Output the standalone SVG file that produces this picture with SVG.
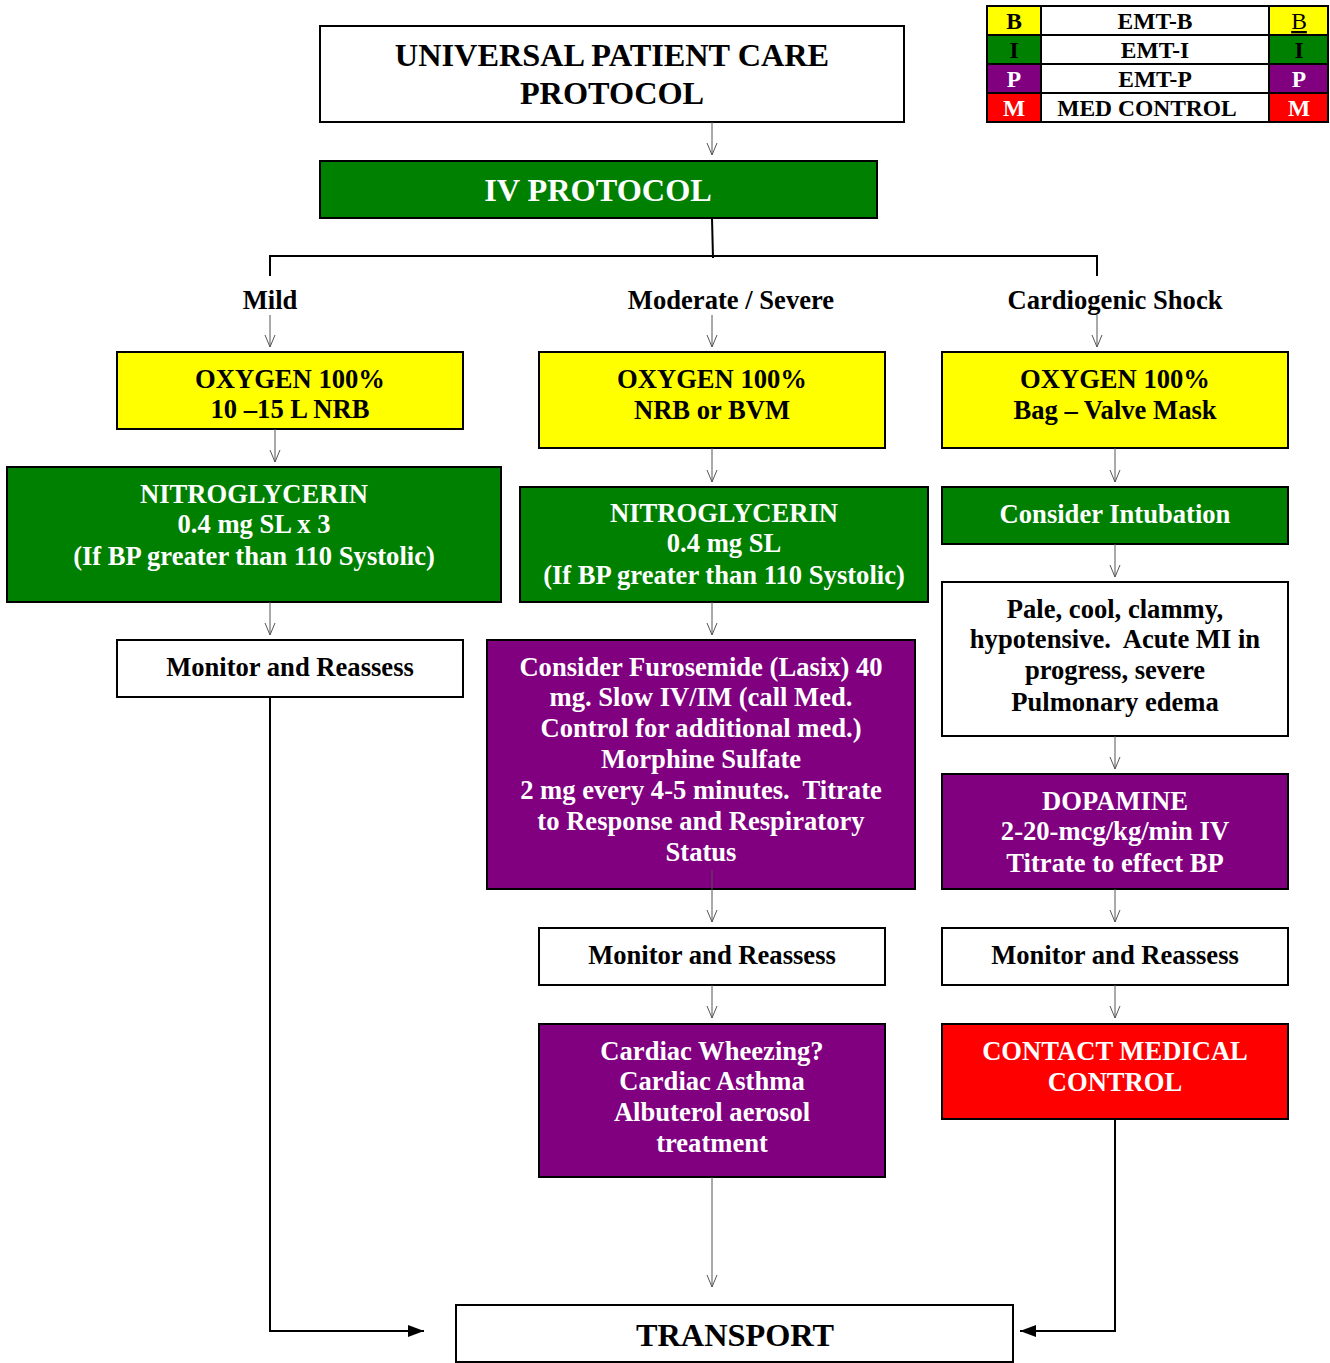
<svg xmlns="http://www.w3.org/2000/svg" width="1330" height="1363" viewBox="0 0 1330 1363">
  <style>
    text { font-family: "Liberation Serif", "Times New Roman", serif; font-weight: bold; text-anchor: middle; white-space: pre; }
    .box { stroke: #000; stroke-width: 2; }
    .white { fill: #fff; }
    .yellow { fill: #ffff00; }
    .green { fill: #008000; }
    .purple { fill: #800080; }
    .red { fill: #ff0000; }
    .t24 { font-size: 26.6px; fill: #000; }
    .t24w { font-size: 26.6px; fill: #fff; }
    .t30 { font-size: 32.3px; fill: #000; }
    .leg { font-size: 23.5px; fill: #000; }
    .legw { font-size: 23.5px; fill: #fff; }
    .thin { stroke: #555; stroke-width: 1; fill: none; }
    .thick { stroke: #000; stroke-width: 2; fill: none; }
  </style>
  <defs>
    <marker id="open" viewBox="-13 -6 14 12" markerWidth="14" markerHeight="12" refX="0" refY="0" orient="auto" markerUnits="userSpaceOnUse">
      <path d="M-12,-5 L0,0 L-12,5" fill="none" stroke="#555" stroke-width="1"/>
    </marker>
    <marker id="solid" viewBox="-16 -7 17 14" markerWidth="17" markerHeight="14" refX="0" refY="0" orient="auto" markerUnits="userSpaceOnUse">
      <path d="M-16,-6 L0,0 L-16,6 Z" fill="#000"/>
    </marker>
  </defs>

  <!-- legend -->
  <g id="legend">
    <rect class="box yellow" x="987" y="6" width="54" height="29"/>
    <rect class="box white" x="1041" y="6" width="228" height="29"/>
    <rect class="box yellow" x="1269" y="6" width="59" height="29"/>
    <rect class="box green" x="987" y="35" width="54" height="29"/>
    <rect class="box white" x="1041" y="35" width="228" height="29"/>
    <rect class="box green" x="1269" y="35" width="59" height="29"/>
    <rect class="box purple" x="987" y="64" width="54" height="29"/>
    <rect class="box white" x="1041" y="64" width="228" height="29"/>
    <rect class="box purple" x="1269" y="64" width="59" height="29"/>
    <rect class="box red" x="987" y="93" width="54" height="29"/>
    <rect class="box white" x="1041" y="93" width="228" height="29"/>
    <rect class="box red" x="1269" y="93" width="59" height="29"/>
    <text class="leg" x="1014" y="29">B</text>
    <text class="leg" x="1155" y="29">EMT-B</text>
    <text class="leg" x="1299" y="29" style="font-weight:normal;text-decoration:underline">B</text>
    <text class="leg" x="1014" y="58">I</text>
    <text class="leg" x="1155" y="58">EMT-I</text>
    <text class="leg" x="1299" y="58">I</text>
    <text class="legw" x="1014" y="87">P</text>
    <text class="leg" x="1155" y="87">EMT-P</text>
    <text class="legw" x="1299" y="87">P</text>
    <text class="legw" x="1014" y="116">M</text>
    <text class="leg" x="1147" y="116">MED CONTROL</text>
    <text class="legw" x="1299" y="116">M</text>
  </g>

  <!-- nodes -->
  <g id="title">
    <rect class="box white" x="320" y="26" width="584" height="96"/>
    <text class="t30" x="612" y="66">UNIVERSAL PATIENT CARE</text>
    <text class="t30" x="612" y="104">PROTOCOL</text>
  </g>
  <g id="iv-protocol">
    <rect class="box green" x="320" y="161" width="557" height="57"/>
    <text class="t30" x="598" y="201" style="fill:#fff">IV PROTOCOL</text>
  </g>

  <g id="label-mild"><text class="t24" x="270" y="309">Mild</text></g>
  <g id="label-moderate"><text class="t24" x="731" y="309">Moderate / Severe</text></g>
  <g id="label-shock"><text class="t24" x="1115" y="309">Cardiogenic Shock</text></g>

  <!-- mild column -->
  <g id="mild-oxygen">
    <rect class="box yellow" x="117" y="352" width="346" height="77"/>
    <text class="t24" x="290" y="388">OXYGEN 100%</text>
    <text class="t24" x="290" y="418">10 –15 L NRB</text>
  </g>
  <g id="mild-nitro">
    <rect class="box green" x="7" y="467" width="494" height="135"/>
    <text class="t24w" x="254" y="503">NITROGLYCERIN</text>
    <text class="t24w" x="254" y="533">0.4 mg SL x 3</text>
    <text class="t24w" x="254" y="565">(If BP greater than 110 Systolic)</text>
  </g>
  <g id="mild-monitor">
    <rect class="box white" x="117" y="640" width="346" height="57"/>
    <text class="t24" x="290" y="676">Monitor and Reassess</text>
  </g>

  <!-- moderate / severe column -->
  <g id="mod-oxygen">
    <rect class="box yellow" x="539" y="352" width="346" height="96"/>
    <text class="t24" x="712" y="388">OXYGEN 100%</text>
    <text class="t24" x="712" y="419">NRB or BVM</text>
  </g>
  <g id="mod-nitro">
    <rect class="box green" x="520" y="487" width="408" height="115"/>
    <text class="t24w" x="724" y="522">NITROGLYCERIN</text>
    <text class="t24w" x="724" y="552">0.4 mg SL</text>
    <text class="t24w" x="724" y="584">(If BP greater than 110 Systolic)</text>
  </g>
  <g id="mod-furosemide">
    <rect class="box purple" x="487" y="640" width="428" height="249"/>
    <text class="t24w" x="701" y="676">Consider Furosemide (Lasix) 40</text>
    <text class="t24w" x="701" y="706">mg. Slow IV/IM (call Med.</text>
    <text class="t24w" x="701" y="737">Control for additional med.)</text>
    <text class="t24w" x="701" y="768">Morphine Sulfate</text>
    <text class="t24w" x="701" y="799">2 mg every 4-5 minutes.  Titrate</text>
    <text class="t24w" x="701" y="830">to Response and Respiratory</text>
    <text class="t24w" x="701" y="861">Status</text>
  </g>
  <g id="mod-monitor">
    <rect class="box white" x="539" y="928" width="346" height="57"/>
    <text class="t24" x="712" y="964">Monitor and Reassess</text>
  </g>
  <g id="mod-wheezing">
    <rect class="box purple" x="539" y="1024" width="346" height="153"/>
    <text class="t24w" x="712" y="1060">Cardiac Wheezing?</text>
    <text class="t24w" x="712" y="1090">Cardiac Asthma</text>
    <text class="t24w" x="712" y="1121">Albuterol aerosol</text>
    <text class="t24w" x="712" y="1152">treatment</text>
  </g>

  <!-- cardiogenic shock column -->
  <g id="shock-oxygen">
    <rect class="box yellow" x="942" y="352" width="346" height="96"/>
    <text class="t24" x="1115" y="388">OXYGEN 100%</text>
    <text class="t24" x="1115" y="419">Bag – Valve Mask</text>
  </g>
  <g id="shock-intubation">
    <rect class="box green" x="942" y="487" width="346" height="57"/>
    <text class="t24w" x="1115" y="523">Consider Intubation</text>
  </g>
  <g id="shock-signs">
    <rect class="box white" x="942" y="582" width="346" height="154"/>
    <text class="t24" x="1115" y="618">Pale, cool, clammy,</text>
    <text class="t24" x="1115" y="648">hypotensive.  Acute MI in</text>
    <text class="t24" x="1115" y="679">progress, severe</text>
    <text class="t24" x="1115" y="711">Pulmonary edema</text>
  </g>
  <g id="shock-dopamine">
    <rect class="box purple" x="942" y="774" width="346" height="115"/>
    <text class="t24w" x="1115" y="810">DOPAMINE</text>
    <text class="t24w" x="1115" y="840">2-20-mcg/kg/min IV</text>
    <text class="t24w" x="1115" y="872">Titrate to effect BP</text>
  </g>
  <g id="shock-monitor">
    <rect class="box white" x="942" y="928" width="346" height="57"/>
    <text class="t24" x="1115" y="964">Monitor and Reassess</text>
  </g>
  <g id="shock-medcontrol">
    <rect class="box red" x="942" y="1024" width="346" height="95"/>
    <text class="t24w" x="1115" y="1060">CONTACT MEDICAL</text>
    <text class="t24w" x="1115" y="1091">CONTROL</text>
  </g>

  <g id="transport">
    <rect class="box white" x="456" y="1305" width="557" height="57"/>
    <text class="t30" x="735" y="1346">TRANSPORT</text>
  </g>

  <!-- connectors -->
  <g id="connectors">
    <line class="thin" x1="712" y1="122" x2="712" y2="155" marker-end="url(#open)"/>
    <polyline class="thick" points="712,218 713,258"/>
    <polyline class="thick" points="270,276 270,256 1097,256 1097,276"/>

    <line class="thin" x1="270" y1="315" x2="270" y2="347" marker-end="url(#open)"/>
    <line class="thin" x1="712" y1="315" x2="712" y2="347" marker-end="url(#open)"/>
    <line class="thin" x1="1097" y1="315" x2="1097" y2="347" marker-end="url(#open)"/>

    <line class="thin" x1="275" y1="429" x2="275" y2="462" marker-end="url(#open)"/>
    <line class="thin" x1="270" y1="602" x2="270" y2="635" marker-end="url(#open)"/>

    <line class="thin" x1="712" y1="448" x2="712" y2="482" marker-end="url(#open)"/>
    <line class="thin" x1="712" y1="602" x2="712" y2="635" marker-end="url(#open)"/>
    <line class="thin" x1="712" y1="870" x2="712" y2="922" marker-end="url(#open)"/>
    <line class="thin" x1="712" y1="985" x2="712" y2="1018" marker-end="url(#open)"/>
    <line class="thin" x1="712" y1="1177" x2="712" y2="1287" marker-end="url(#open)"/>

    <line class="thin" x1="1115" y1="448" x2="1115" y2="482" marker-end="url(#open)"/>
    <line class="thin" x1="1115" y1="544" x2="1115" y2="577" marker-end="url(#open)"/>
    <line class="thin" x1="1115" y1="736" x2="1115" y2="769" marker-end="url(#open)"/>
    <line class="thin" x1="1115" y1="889" x2="1115" y2="922" marker-end="url(#open)"/>
    <line class="thin" x1="1115" y1="985" x2="1115" y2="1018" marker-end="url(#open)"/>

    <polyline class="thick" points="270,697 270,1331 424,1331" marker-end="url(#solid)"/>
    <polyline class="thick" points="1115,1119 1115,1331 1020,1331" marker-end="url(#solid)"/>
  </g>
</svg>
